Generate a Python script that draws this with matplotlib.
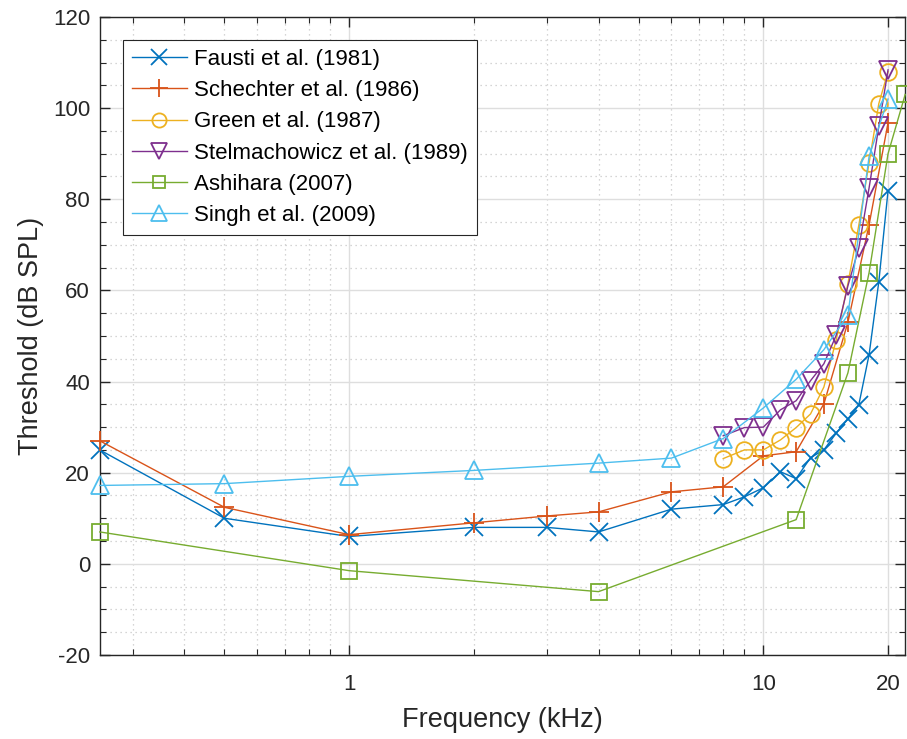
import numpy as np
import matplotlib
matplotlib.use("Agg")
import matplotlib.pyplot as plt
from matplotlib.ticker import FixedLocator, NullFormatter

# Hearing thresholds (dB SPL), frequencies in kHz
fausti_f = [0.25, 0.5, 1, 2, 3, 4, 6, 8, 9, 10, 11, 12, 13, 14, 15, 16, 17, 18, 19, 20]
fausti_db = [25, 10, 6, 8, 8, 7, 12, 13, 14.7, 16.7, 20.2, 18.7, 23.3, 25, 28.7,
             31.8, 34.9, 45.9, 61.9, 81.9]

schechter_f = [0.25, 0.5, 1, 2, 3, 4, 6, 8, 10, 12, 14, 16, 18, 20]
schechter_db = [27, 12.4, 6.4, 9, 10.5, 11.4, 15.8, 16.9, 23.7, 24.6, 35.1, 53,
                74.4, 96.8]

green_f = [8, 9, 10, 11, 12, 13, 14, 15, 16, 17, 18, 19, 20]
green_db = [23.1, 25, 25, 27.2, 29.9, 32.9, 38.8, 49.2, 61.5, 74.3, 88, 101, 108]

stelma_f = [8, 9, 10, 11, 12, 13, 14, 15, 16, 17, 18, 19, 20]
stelma_db = [28.1, 29.9, 30, 33.8, 35.8, 40.2, 43.9, 50.2, 61, 69.3, 82.5, 96, 108.4]

ashihara_f = [0.25, 1, 4, 12, 16, 18, 20, 22]
ashihara_db = [7, -1.5, -6.1, 9.7, 41.9, 63.9, 90, 103]

singh_f = [0.25, 0.5, 1, 2, 4, 6, 8, 10, 12, 14, 16, 18, 20]
singh_db = [17.2, 17.6, 19.2, 20.5, 22.1, 23.2, 27.5, 34.2, 40.5, 47, 54.6, 89.4, 102]

labels = ["Fausti et al. (1981)", "Schechter et al. (1986)", "Green et al. (1987)",
          "Stelmachowicz et al. (1989)", "Ashihara (2007)", "Singh et al. (2009)"]
colors = ["#0072BD", "#D95319", "#EDB120", "#7E2F8E", "#77AC30", "#4DBEEE"]
markers = ["x", "+", "o", "v", "s", "^"]
sizes = [13, 15, 12, 13, 11, 13]

plt.rcParams["font.family"] = ["Liberation Sans", "DejaVu Sans"]
plt.rcParams["axes.unicode_minus"] = False

fig = plt.figure(figsize=(9.07, 7.39), dpi=100)
ax = fig.add_axes([0.110, 0.1137, 0.888, 0.8633])

series = [(fausti_f, fausti_db), (schechter_f, schechter_db), (green_f, green_db),
          (stelma_f, stelma_db), (ashihara_f, ashihara_db), (singh_f, singh_db)]

for (f, db), lab, c, m, s in zip(series, labels, colors, markers, sizes):
    ax.plot(f, db, color=c, marker=m, markersize=s, markerfacecolor="none",
            markeredgewidth=1.3, linewidth=1.0, label=lab, clip_on=False, zorder=3)

ax.set_xscale("log")
ax.set_xlim(0.25, 22)
ax.set_ylim(-20, 120)

ax.xaxis.set_major_locator(FixedLocator([1, 10, 20]))
ax.set_xticklabels(["1", "10", "20"])
minor_x = [0.3, 0.4, 0.5, 0.6, 0.7, 0.8, 0.9, 2, 3, 4, 5, 6, 7, 8, 9]
ax.xaxis.set_minor_locator(FixedLocator(minor_x))
ax.xaxis.set_minor_formatter(NullFormatter())
ax.set_yticks(np.arange(-20, 121, 20))
ax.yaxis.set_minor_locator(FixedLocator(np.arange(-20, 121, 5)))

ax.grid(True, which="major", color="#dedede", linewidth=1.0, linestyle="-", zorder=0)
ax.grid(True, which="minor", color="#c8c8c8", linewidth=0.9, linestyle=(0, (1, 3)), zorder=0)
ax.set_axisbelow(True)

ax.tick_params(which="both", direction="in", top=True, right=True,
               colors="#262626", labelsize=16)
ax.tick_params(which="major", length=7, width=1)
ax.tick_params(which="minor", length=4, width=0.8)
ax.tick_params(axis="x", pad=14)
ax.tick_params(axis="y", pad=7)
for sp in ax.spines.values():
    sp.set_color("#262626")
    sp.set_linewidth(1.0)

ax.set_xlabel("Frequency (kHz)", fontsize=19.5, color="#262626", labelpad=8)
ax.set_ylabel("Threshold (dB SPL)", fontsize=19.5, color="#262626", labelpad=6)

leg = ax.legend(loc="upper left", bbox_to_anchor=(0.0286, 0.964), fontsize=16,
                frameon=True, fancybox=False, edgecolor="#262626", framealpha=1,
                handlelength=2.5, labelspacing=0.46, borderpad=0.4,
                handletextpad=0.3, markerscale=0.85, borderaxespad=0)
leg.get_frame().set_linewidth(0.8)

fig.savefig("out.png", dpi=100)
